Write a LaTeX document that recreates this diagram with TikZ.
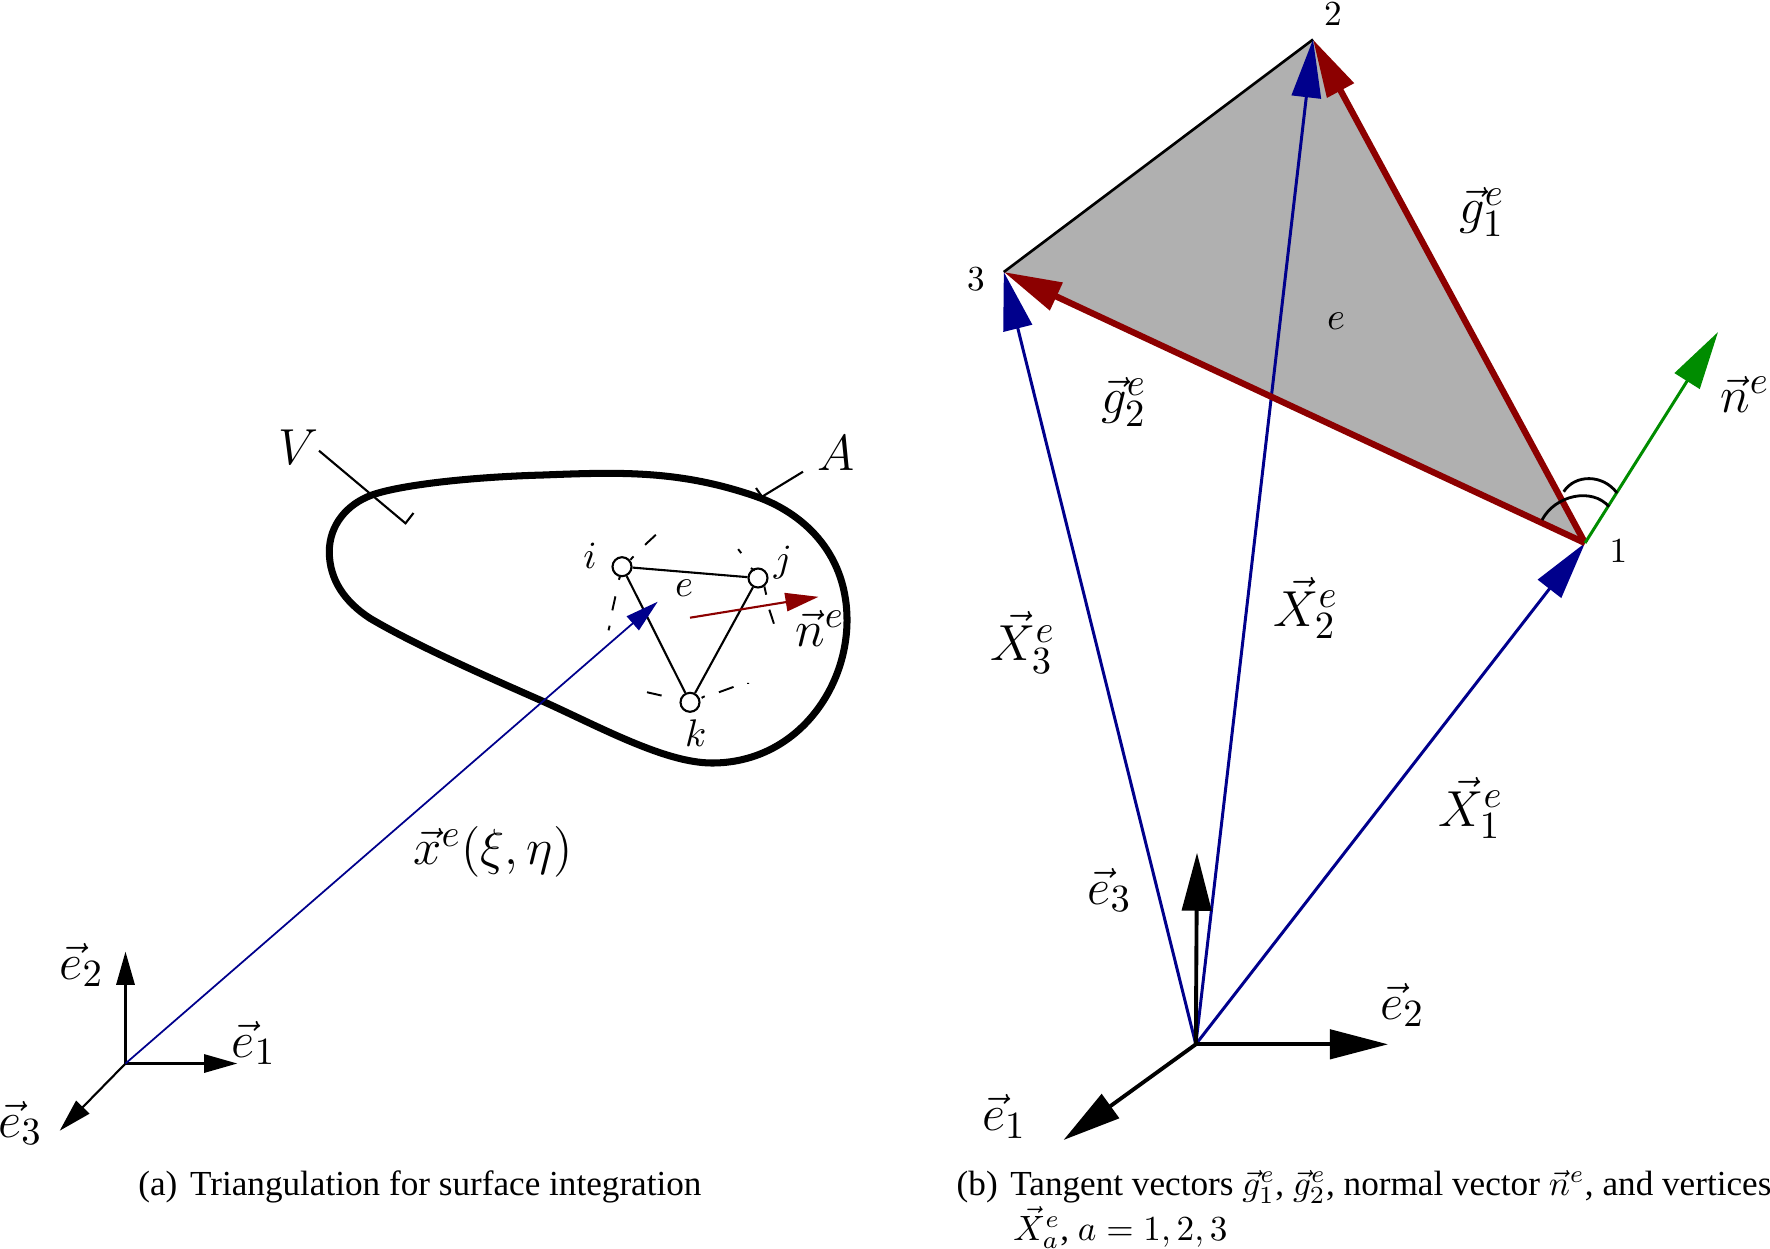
\documentclass[tikz,border=0pt]{standalone}
\usepackage[no-math]{fontspec}
\setmainfont{Liberation Serif}
\usetikzlibrary{arrows.meta}
\definecolor{dblue}{rgb}{0,0,0.55}
\definecolor{dred}{rgb}{0.55,0,0}
\definecolor{dgreen}{rgb}{0,0.55,0}
\newcommand{\mybigsz}{\fontsize{15.2}{17}\selectfont}
\newcommand{\myhugesz}{\fontsize{15.7}{18}\selectfont}
\newcommand{\mysmallsz}{\fontsize{10}{12}\selectfont}
\newcommand{\myletsz}{\fontsize{11}{12}\selectfont}
\newcommand{\mycapsz}{\fontsize{10}{12}\selectfont}
\tikzset{
  lab/.style={inner sep=0pt,font=\mybigsz},
  hlab/.style={inner sep=0pt,font=\myhugesz},
  slab/.style={inner sep=0pt,font=\mysmallsz},
  llab/.style={inner sep=0pt,font=\myletsz},
  caplab/.style={inner sep=0pt,anchor=base west,font=\mycapsz},
  tipS/.style={-{Triangle[length=9.4pt,width=5.2pt,sep=0pt]}},
  tipL/.style={-{Triangle[length=16.5pt,width=8.3pt,sep=0pt]}},
  thinblack/.style={line width=0.6pt},
  thickblack/.style={line width=1.1pt},
  vtx/.style={circle,draw,fill=white,line width=0.6pt,minimum size=5.4pt,inner sep=0pt},
  surf/.style={line width=2pt,line join=round},
  dashpiece/.style={line width=0.55pt},
}
\begin{document}
\begin{tikzpicture}[x=0.01cm,y=-0.01cm]
\useasboundingbox (0,0) rectangle (1770,1248);
% ---- left figure
\coordinate (oa) at (125.5,1063.5);
\coordinate (e1a) at (237.2,1063.5);
\coordinate (e2a) at (125.5,951.7);
\coordinate (e3a) at (59.7,1130.7);
\coordinate (xtip) at (657.7,601.7);
\coordinate (ntail) at (690,617.7);
\coordinate (ntip) at (818.5,596.8);
\coordinate (vs) at (319,450.7);
\coordinate (ve) at (405.5,523.3);
\coordinate (vt) at (413.5,513);
\coordinate (as) at (803,471.7);
\coordinate (ae) at (762,496.7);
\coordinate (at) at (756,488);
\draw[surf] (329.3,551.7)
 .. controls (329.3,525) and (347,504) .. (372,495)
 .. controls (400,485) and (470,477) .. (543,475)
 .. controls (620,472) and (680,470) .. (756.7,496.7)
 .. controls (800,512) and (846,550) .. (847,618)
 .. controls (848,690) and (795,763) .. (712,763)
 .. controls (665,763) and (600,727) .. (540,700)
 .. controls (490,678) and (415,645) .. (370,618.3)
 .. controls (345,602) and (329.3,580) .. (329.3,551.7) -- cycle;
\draw[thinblack] (vs) -- (ve) -- (vt);
\draw[thinblack] (as) -- (ae) -- (at);
\node[vtx] (i) at (622,566.7) {};
\node[vtx] (j) at (758,578) {};
\node[vtx] (k) at (690,702.3) {};
\draw[thinblack] (i) -- (j);
\draw[thinblack] (j) -- (k);
\draw[thinblack] (k) -- (i);
\begin{scope}[shift={(268,420)},x=0.003846cm,y=-0.003333cm]
\draw[dashpiece] (942,420)--(950,410) (980,375)--(1008,345) (912,480)--(915,470)
 (903,530)--(895,572) (888,618)--(885,632)
 (1222,388)--(1230,400) (1255,445)--(1265,452) (1290,500)--(1295,525) (1303,570)--(1315,612)
 (1127,835)--(1135,830) (1172,818)--(1210,802) (1248,790)--(1248,793) (985,818)--(1023,828);
\end{scope}
\draw[thinblack,tipS] (oa) -- (e1a);
\draw[thinblack,tipS] (oa) -- (e2a);
\draw[thinblack,tipS] (oa) -- (e3a);
\draw[dblue,line width=0.5pt,tipS] (oa) -- (xtip);
\draw[dred,line width=0.6pt,tipS] (ntail) -- (ntip);
\node[lab] (lV) at (298,447) {$V$};
\node[lab] (lA) at (836.5,453) {$A$};
\node[llab] (li) at (590,556) {$i$};
\node[llab] (lj) at (783,563) {$j$};
\node[llab] (lk) at (695.7,733) {$k$};
\node[llab] (le) at (684,588) {$e$};
\node[lab] (ln) at (820,628) {$\vec{n}^e$};
\node[hlab] (lx) at (493,852) {$\vec{x}^e(\xi,\eta)$};
\node[lab] (le1a) at (254,1043) {$\vec{e}_1$};
\node[lab] (le2a) at (81.6,965) {$\vec{e}_2$};
\node[lab] (le3a) at (20.4,1123) {$\vec{e}_3$};
% ---- right figure
\coordinate (ob) at (1195.8,1044.3);
\coordinate (v1) at (1585,543);
\coordinate (v2) at (1313,39.5);
\coordinate (v3) at (1003.8,272);
\coordinate (nt) at (1718,332);
\coordinate (upb) at (1197,852.7);
\coordinate (e2b) at (1388,1044.3);
\coordinate (e1b) at (1063.5,1140);
\fill[black!31] (v1) -- (v2) -- (v3) -- cycle;
\draw[line width=0.75pt] (v3) -- (v2);
\draw[dblue,line width=0.85pt,tipL] (ob) -- (v1);
\draw[dblue,line width=0.85pt,tipL] (ob) -- (v2);
\draw[dblue,line width=0.85pt,tipL] (ob) -- (v3);
\draw[dred,line width=1.8pt,tipL] (v1) -- (v2);
\draw[dred,line width=1.8pt,tipL] (v1) -- (v3);
\draw[dgreen,line width=0.85pt,tipL] (v1) -- (nt);
\draw[thickblack,tipL] (ob) -- (upb);
\draw[thickblack,tipL] (ob) -- (e2b);
\draw[thickblack,tipL] (ob) -- (e1b);
\draw[line width=0.8pt] (1563.7,491.7) .. controls (1575,474) and (1603,474) .. (1617,493);
\draw[line width=0.8pt] (1542,520) .. controls (1555,495) and (1592,487) .. (1609,506.7);
\node[slab] (l1) at (1618.4,551) {$1$};
\node[slab] (l2) at (1333,14.5) {$2$};
\node[slab] (l3) at (976,279) {$3$};
\node[llab] (lef) at (1336,321.5) {$e$};
\node[lab] (lg1) at (1482,212) {$\vec{g}^e_1$};
\node[lab] (lg2) at (1124,402) {$\vec{g}^e_2$};
\node[lab] (lnb) at (1745,394) {$\vec{n}^e$};
\node[lab] (lX1) at (1471,808) {$\vec{X}^e_1$};
\node[lab] (lX2) at (1306,608) {$\vec{X}^e_2$};
\node[lab] (lX3) at (1023,642.4) {$\vec{X}^e_3$};
\node[lab] (le3b) at (1109.5,890) {$\vec{e}_3$};
\node[lab] (le2b) at (1402.4,1005) {$\vec{e}_2$};
\node[lab] (le1b) at (1004,1116.7) {$\vec{e}_1$};
% ---- captions
\node[caplab] (capa) at (137.7,1195) {(a)\hspace{0.36em}Triangulation for surface integration};
\node[caplab] (capb) at (956,1195) {(b)\hspace{0.36em}Tangent vectors $\vec{g}^e_1$, $\vec{g}^e_2$, normal vector $\vec{n}^e$, and vertices};
\node[caplab] (capc) at (1012.7,1240) {$\vec{X}^e_a$, $a=1,2,3$};
\end{tikzpicture}
\end{document}
